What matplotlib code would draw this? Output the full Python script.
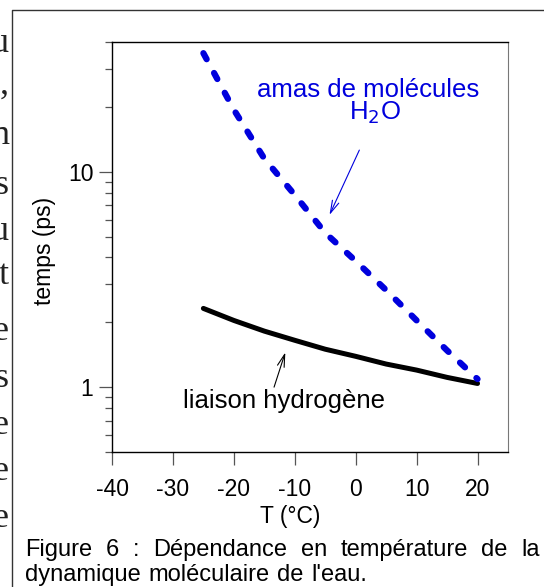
import matplotlib
matplotlib.use("Agg")
import matplotlib.pyplot as plt
from matplotlib.lines import Line2D
from matplotlib.ticker import FixedLocator, LogLocator, NullFormatter, FixedFormatter

# valeurs
temp = [-25, -20, -15, -10, -5, 0, 5, 10, 15, 20]
t_liaison = [2.32, 2.04, 1.82, 1.65, 1.50, 1.39, 1.28, 1.20, 1.11, 1.04]
t_amas = [35.5, 19.4, 11.5, 7.8, 5.2, 3.85, 2.82, 2.04, 1.48, 1.09]

x_ticks = [-40, -30, -20, -10, 0, 10, 20]
y_ticks = [1, 10]
y_tick_labels = ["1", "10"]

# lettres coupees de la colonne voisine
marge_lettres = ["u", ",", "n", "s", "u", "t", "e", "s", "e", "e", "e"]
marge_y = [52, 94, 144, 194, 240, 284, 340, 387, 434, 480, 527]

legende = ["Figure 6 : Dépendance en température de la",
           "dynamique moléculaire de l'eau."]

plt.rcParams['font.family'] = ['Liberation Sans', 'DejaVu Sans']
plt.rcParams['axes.unicode_minus'] = False

W, H = 544, 587
fig = plt.figure(figsize=(W / 100, H / 100), dpi=100)
ax = fig.add_axes([112 / W, 1 - 452 / H, (508 - 112) / W, (452 - 42) / H])

blue = '#0000dd'
ax.plot(temp, t_liaison, color='black', lw=3.6, solid_capstyle='round')
ax.plot(temp, t_amas, color=blue, lw=4.5, dashes=(1.1, 2.5), dash_capstyle='round')

ax.set_yscale('log')
ax.set_xlim(-40, 25)
ax.set_ylim(0.5, 40)

ax.xaxis.set_major_locator(FixedLocator(x_ticks))
ax.yaxis.set_major_locator(FixedLocator(y_ticks))
ax.yaxis.set_major_formatter(FixedFormatter(y_tick_labels))
ax.yaxis.set_minor_locator(LogLocator(base=10, subs=range(2, 10)))
ax.yaxis.set_minor_formatter(NullFormatter())

ax.tick_params(which='major', direction='out', length=9.5, width=0.9, color='#555555',
               labelsize=16.5, pad=4)
ax.tick_params(which='minor', direction='out', length=5, width=0.9, color='#555555')
ax.tick_params(axis='x', pad=9)
ax.spines['right'].set_color('#777777')
for s in ['left', 'bottom', 'top']:
    ax.spines[s].set_color('black')
    ax.spines[s].set_linewidth(1.0)

ax.set_ylabel('temps (ps)', fontsize=16.5, va='center')
ax.yaxis.set_label_coords((44 - 112) / 396, 1 - (251 - 42) / 410)
ax.set_xlabel('T (°C)', fontsize=16.5, va='center')
ax.xaxis.set_label_coords((290 - 112) / 396, -(517 - 452) / 410)

# annotations
ax.text(2.1, 24, 'amas de molécules', color=blue, fontsize=18.5, ha='center', va='center')
ax.text(3.1, 18.8, 'H$_2$O', color=blue, fontsize=18.5, ha='center', va='center')
ax.annotate('', xy=(-4.3, 6.3), xytext=(0.6, 12.6),
            arrowprops=dict(arrowstyle='->,head_length=0.9,head_width=0.25', color=blue, lw=0.8,
                            shrinkA=0, shrinkB=0))
ax.text(-11.8, 0.86, 'liaison hydrogène', color='black', fontsize=18.5, ha='center', va='center')
ax.annotate('', xy=(-11.55, 1.45), xytext=(-13.4, 1.0),
            arrowprops=dict(arrowstyle='->,head_length=0.9,head_width=0.25', color='black', lw=0.8,
                            shrinkA=0, shrinkB=0))

# cadre de la figure
fig.add_artist(Line2D([12 / W, 12 / W, 1], [0, 1 - 10 / H, 1 - 10 / H],
                      transform=fig.transFigure, color='#333333', lw=1.0))

for lettre, yp in zip(marge_lettres, marge_y):
    fig.text(9 / W, 1 - yp / H, lettre, fontsize=26, family='Liberation Serif',
             ha='right', va='baseline', color='#222222')

# legende, mots espaces comme dans l'original
lignes = []
for texte, yb in zip(legende, [556, 581]):
    lignes.append([fig.text(0, 1 - yb / H, m, fontsize=17, va='baseline')
                   for m in texte.split(" ")])
fig.canvas.draw()
r = fig.canvas.get_renderer()
for mots, (x0, x1) in zip(lignes, [(25, 540), (25, 367)]):
    larg = [m.get_window_extent(r).width for m in mots]
    esp = (x1 - x0 - sum(larg)) / (len(mots) - 1)
    x = x0
    for m, w in zip(mots, larg):
        m.set_x(x / W)
        x += w + esp

fig.savefig('out.png', dpi=100)
